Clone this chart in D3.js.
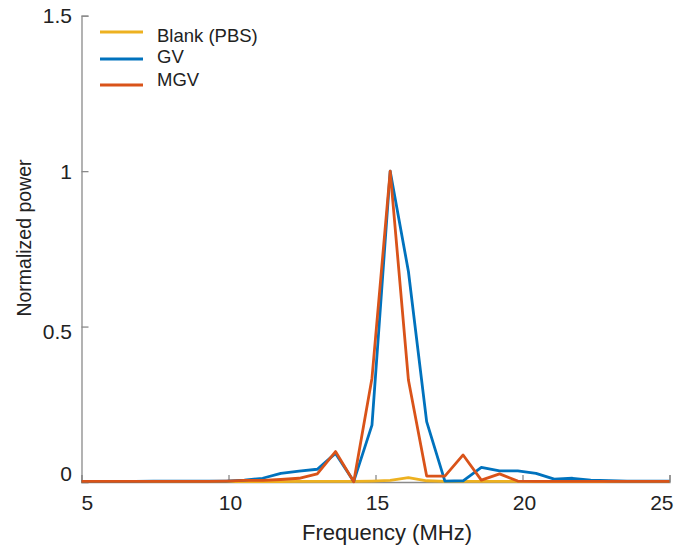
<!DOCTYPE html>
<html>
<head>
<meta charset="utf-8">
<script src="https://cdn.jsdelivr.net/npm/d3@7.9.0/dist/d3.min.js"></script>
<style>
  body { margin: 0; background: #fff; }
  svg text { font-family: "Liberation Sans", Arial, Helvetica, sans-serif; fill: #222; }
</style>
</head>
<body>
<svg id="chart" width="678" height="550"></svg>
<script>
// frequency samples (MHz)
const freqs = [4.96, 5.58, 6.2, 6.82, 7.44, 8.06, 8.68, 9.3, 9.92, 10.54, 11.16, 11.78,
  12.4, 13.02, 13.64, 14.26, 14.88, 15.5, 16.12, 16.74, 17.36, 17.98, 18.6, 19.22,
  19.84, 20.46, 21.08, 21.7, 22.32, 22.94, 23.56, 24.18, 24.8, 25.42];

const blank = [0.001, 0.001, 0.001, 0.001, 0.001, 0.001, 0.001, 0.001, 0.001, 0.001, 0.001, 0.001,
  0.002, 0.002, 0.002, 0.002, 0.003, 0.005, 0.014, 0.004, 0.002, 0.002, 0.002, 0.002,
  0.002, 0.001, 0.001, 0.001, 0.001, 0.001, 0.001, 0.001, 0.001, 0.001];

const gv = [0.002, 0.002, 0.002, 0.002, 0.003, 0.003, 0.003, 0.003, 0.003, 0.006, 0.012, 0.028,
  0.035, 0.041, 0.092, 0.002, 0.183, 1.0, 0.677, 0.194, 0.003, 0.004, 0.047, 0.036,
  0.036, 0.028, 0.009, 0.012, 0.006, 0.004, 0.003, 0.003, 0.003, 0.003];

const mgv = [0.002, 0.002, 0.002, 0.002, 0.002, 0.002, 0.002, 0.002, 0.003, 0.005, 0.005, 0.008,
  0.012, 0.026, 0.098, 0.001, 0.334, 1.0, 0.328, 0.019, 0.019, 0.087, 0.006, 0.026,
  0.003, 0.002, 0.002, 0.002, 0.002, 0.002, 0.002, 0.002, 0.002, 0.002];

const seriesNames = ["Blank (PBS)", "GV", "MGV"];
const seriesColors = ["#EDB120", "#0072BD", "#D95319"];
const xTicks = [5, 10, 15, 20, 25];
const yTicks = [0, 0.5, 1, 1.5];

const svg = d3.select("#chart");
const plotLeft = 81.5, plotRight = 669.5, plotTop = 15.7, plotBottom = 482;

const x = d3.scaleLinear().domain([5, 25]).range([plotLeft, plotRight]);
const y = d3.scaleLinear().domain([0, 1.5]).range([plotBottom, plotTop]);

svg.append("defs").append("clipPath").attr("id", "plot")
  .append("rect").attr("x", plotLeft).attr("y", 0)
  .attr("width", plotRight - plotLeft).attr("height", plotBottom + 4);

// axes (MATLAB-ish: inward ticks, no box)
const axisColor = "#8a8a8a";
const xAxis = svg.append("g").attr("transform", `translate(0,${plotBottom})`)
  .call(d3.axisTop(x).tickValues(xTicks).tickSize(7).tickFormat(""));
const yAxis = svg.append("g").attr("transform", `translate(${plotLeft},0)`)
  .call(d3.axisRight(y).tickValues(yTicks).tickSize(7).tickFormat(""));
[xAxis, yAxis].forEach(g => {
  g.select(".domain").attr("stroke", axisColor).attr("stroke-width", 1.3);
  g.selectAll(".tick line").attr("stroke", axisColor).attr("stroke-width", 1.3);
});

// tick labels
svg.append("g").selectAll("text").data(xTicks).join("text")
  .attr("x", (d, i) => i === 0 ? x(d) : i === xTicks.length - 1 ? x(d) + 4 : x(d) + 2)
  .attr("y", 510)
  .attr("text-anchor", (d, i) => i === 0 ? "start" : i === xTicks.length - 1 ? "end" : "middle")
  .style("font-size", "21px")
  .text(d => d);

svg.append("g").selectAll("text").data(yTicks).join("text")
  .attr("x", 72)
  .attr("y", d => y(d) + (d === 0 ? -1 : d === 0.5 ? 12 : 7.5))
  .attr("text-anchor", "end")
  .style("font-size", "21px")
  .text(d => d);

// axis titles
svg.append("text").attr("x", 387).attr("y", 540).attr("text-anchor", "middle")
  .style("font-size", "22px").text("Frequency (MHz)");
svg.append("text").attr("transform", "translate(31,238) rotate(-90)").attr("text-anchor", "middle")
  .style("font-size", "19.5px").text("Normalized power");

// lines
const line = d3.line().x((d, i) => x(freqs[i])).y(d => y(d));
const plot = svg.append("g").attr("clip-path", "url(#plot)");
[blank, gv, mgv].forEach((vals, s) => {
  plot.append("path").datum(vals)
    .attr("d", line)
    .attr("fill", "none")
    .attr("stroke", seriesColors[s])
    .attr("stroke-width", 2.8)
    .attr("stroke-linejoin", "round");
});

// legend
const legendLineY = [32, 59, 85];
const legendTextY = [41.7, 63.3, 86];
const lg = svg.append("g");
seriesNames.forEach((name, i) => {
  lg.append("line").attr("x1", 100).attr("x2", 143)
    .attr("y1", legendLineY[i]).attr("y2", legendLineY[i])
    .attr("stroke", seriesColors[i]).attr("stroke-width", 2.8);
  lg.append("text").attr("x", 157).attr("y", legendTextY[i])
    .style("font-size", "18.5px").text(name);
});
</script>
</body>
</html>
